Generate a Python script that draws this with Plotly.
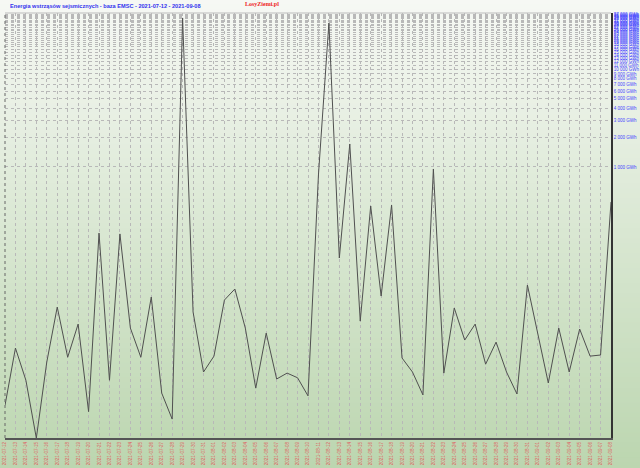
import plotly.graph_objects as go

dates = ["2021-07-12","2021-07-13","2021-07-14","2021-07-15","2021-07-16","2021-07-17","2021-07-18",
         "2021-07-19","2021-07-20","2021-07-21","2021-07-22","2021-07-23","2021-07-24","2021-07-25",
         "2021-07-26","2021-07-27","2021-07-28","2021-07-29","2021-07-30","2021-07-31","2021-08-01",
         "2021-08-02","2021-08-03","2021-08-04","2021-08-05","2021-08-06","2021-08-07","2021-08-08",
         "2021-08-09","2021-08-10","2021-08-11","2021-08-12","2021-08-13","2021-08-14","2021-08-15",
         "2021-08-16","2021-08-17","2021-08-18","2021-08-19","2021-08-20","2021-08-21","2021-08-22",
         "2021-08-23","2021-08-24","2021-08-25","2021-08-26","2021-08-27","2021-08-28","2021-08-29",
         "2021-08-30","2021-08-31","2021-09-01","2021-09-02","2021-09-03","2021-09-04","2021-09-05",
         "2021-09-06","2021-09-07","2021-09-08"]

energy_gwh = [3.6, 13.9, 6.5, 1.66, 10.0, 36.6, 11.2, 24.5, 3.1, 210, 6.5, 206, 22.3, 11.2,
              46.4, 4.8, 2.6, 33750, 32.6, 7.9, 11.5, 43.2, 56.1, 22.3, 5.4, 19.8, 6.7, 7.7,
              6.9, 4.5, 828, 30000, 116.6, 1722, 26.3, 398, 47.5, 408, 11.0, 7.9, 4.6, 954,
              7.7, 35.8, 16.8, 24.5, 9.5, 16.0, 7.9, 4.7, 61.6, 19.4, 6.1, 22.3, 7.9, 21.8,
              11.5, 11.8, 438]

y_tick_vals = [1000 * k for k in range(1, 38)]
y_tick_text = ["{:,} GWh".format(v).replace(",", " ") for v in y_tick_vals]

title_text = "Energia wstrząsów sejsmicznych - baza EMSC - 2021-07-12 - 2021-09-08"
brand_text = "LosyZiemi.pl"

fig = go.Figure()
fig.add_trace(go.Scatter(
    x=dates, y=energy_gwh, mode="lines",
    line=dict(color="#505050", width=1),
    hoverinfo="x+y",
))

# background vertical gradient
shapes = []
n = 94
top = (246, 248, 244)
bot = (188, 214, 176)
for i in range(n):
    t = i / (n - 1)
    c = tuple(int(round(top[j] + (bot[j] - top[j]) * t)) for j in range(3))
    y1 = 1 + 13/425 - i * (468/425) / n
    y0 = 1 + 13/425 - (i + 1) * (468/425) / n
    shapes.append(dict(type="rect", xref="paper", yref="paper",
                       x0=-5/606, x1=1 + 29/606, y0=y0 - 0.002, y1=y1 + 0.002,
                       fillcolor="rgb(%d,%d,%d)" % c, line=dict(width=0), layer="below"))
# left dotted border and top border
shapes.append(dict(type="line", xref="paper", yref="paper", x0=0, x1=0, y0=0, y1=1,
                   line=dict(color="#666666", width=1, dash="dot"), layer="above"))
shapes.append(dict(type="line", xref="paper", yref="paper", x0=0, x1=1, y0=1, y1=1,
                   line=dict(color="#bbbbbb", width=1), layer="above"))

fig.update_layout(
    width=640, height=468,
    margin=dict(l=5, r=29, t=13, b=30, autoexpand=False),
    paper_bgcolor="white",
    plot_bgcolor="rgba(0,0,0,0)",
    showlegend=False,
    shapes=shapes,
    annotations=[
        dict(text="<b>" + title_text + "</b>", xref="paper", yref="paper",
             x=3/606, y=1 + 7/425, xanchor="left", yanchor="middle", showarrow=False,
             font=dict(family="Arial", size=5.6, color="#3333ee")),
        dict(text="<b>" + brand_text + "</b>", xref="paper", yref="paper",
             x=(262-5)/606, y=1 + 9/425, xanchor="center", yanchor="middle", showarrow=False,
             font=dict(family="Liberation Serif", size=6, color="#ee2222")),
    ],
    xaxis=dict(
        type="category",
        automargin=False,
        range=[0, len(dates) - 1],
        tickmode="array", tickvals=dates, ticktext=dates,
        tickangle=-90,
        tickfont=dict(family="Arial", size=4.6, color="#e06060"),
        showgrid=True, gridcolor="#b8b8b8", griddash="dot", gridwidth=1,
        showline=True, linecolor="#555555", linewidth=2,
        ticks="", zeroline=False,
    ),
    yaxis=dict(
        type="log",
        automargin=False,
        side="right",
        range=[0.221, 4.579],
        tickmode="array", tickvals=y_tick_vals, ticktext=y_tick_text,
        tickfont=dict(family="Arial", size=4.5, color="#4444ff"),
        showgrid=True, gridcolor="#b8b8b8", griddash="dot", gridwidth=1,
        showline=True, linecolor="#333333", linewidth=1.5,
        ticks="", zeroline=False,
    ),
)

fig.write_html("out.html", config={"displayModeBar": False},
               post_script="document.body.style.margin='0';document.body.style.padding='0';")
